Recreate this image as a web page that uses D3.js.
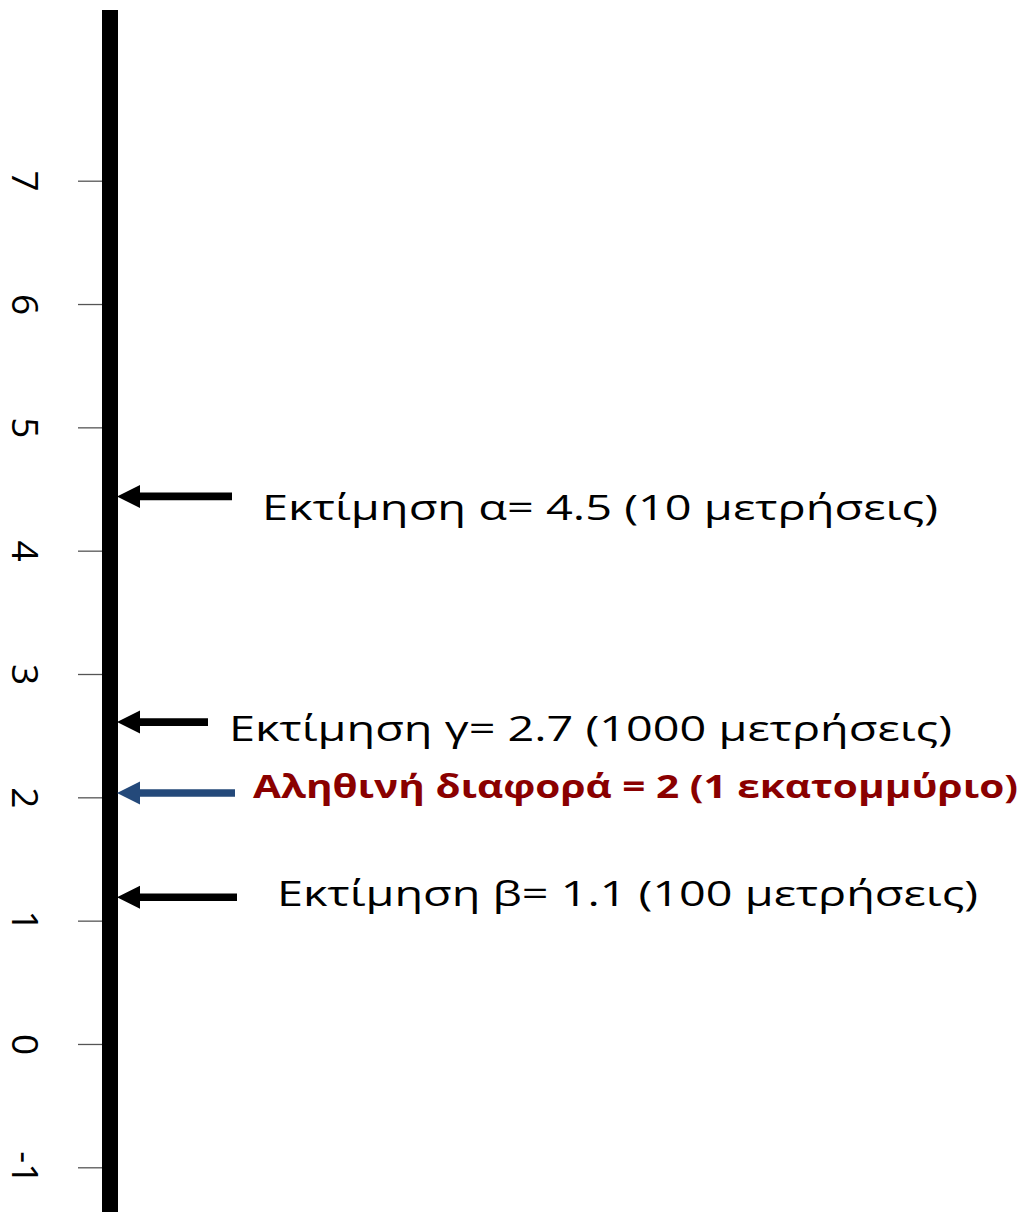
<!DOCTYPE html>
<html>
<head>
<meta charset="utf-8">
<script src="https://cdn.jsdelivr.net/npm/d3@7"></script>
<style>
  html, body { margin: 0; padding: 0; background: #fff; }
  svg { display: block; }
</style>
</head>
<body>
<svg id="chart" width="1024" height="1212"></svg>
<script>
// ---- data ----
const tickValues = [-1, 0, 1, 2, 3, 4, 5, 6, 7];
const estimateLabels = [
  "Εκτίμηση α= 4.5 (10 μετρήσεις)",
  "Εκτίμηση γ= 2.7 (1000 μετρήσεις)",
  "Αληθινή διαφορά = 2 (1 εκατομμύριο)",
  "Εκτίμηση β= 1.1 (100 μετρήσεις)"
];
const estimateValues = [4.5, 2.7, 2, 1.1];
// where the arrows point on the axis
const arrowPositions = [4.44, 2.61, 2.035, 1.19];
const isTruth = [false, false, true, false];

// ---- layout (not data) ----
const arrowEndX = [232, 208, 235, 237];
const labelX = [262, 229, 253, 277];
const labelW = [676, 723, 765, 701];
const labelBaselineOffset = [24, 19, 5, 9];

const svg = d3.select("#chart");

const y = d3.scaleLinear().domain([-1, 7]).range([1167.3, 180.7]);

// thick axis line
svg.append("rect")
  .attr("x", 102).attr("y", 10)
  .attr("width", 16).attr("height", 1212 - 10)
  .attr("fill", "#000");

// ticks
const axis = d3.axisLeft(y)
  .tickValues(tickValues)
  .tickSize(24)
  .tickSizeOuter(0)
  .tickFormat(d => String(d));

const g = svg.append("g").attr("transform", "translate(102,0)").call(axis);
g.select(".domain").remove();
g.selectAll(".tick line").attr("stroke", "#555").attr("stroke-width", 1.3);
g.selectAll(".tick text")
  .attr("x", 0).attr("y", 0).attr("dy", null)
  .attr("text-anchor", "middle")
  .attr("transform", "translate(-90,0) rotate(90)")
  .attr("font-family", "'Open Sans', sans-serif")
  .attr("font-size", 37)
  .attr("fill", "#000");

// arrows
const tipX = 117, headBackX = 140, headHalf = 11.5, shaftHalf = 3.8;
estimateValues.forEach((v, i) => {
  const yy = y(arrowPositions[i]);
  const color = isTruth[i] ? "#24497a" : "#000";
  const pts = [
    [tipX, yy],
    [headBackX, yy - headHalf],
    [headBackX, yy - shaftHalf],
    [arrowEndX[i], yy - shaftHalf],
    [arrowEndX[i], yy + shaftHalf],
    [headBackX, yy + shaftHalf],
    [headBackX, yy + headHalf]
  ];
  svg.append("path")
    .attr("d", d3.line()(pts) + "Z")
    .attr("fill", color);

  svg.append("text")
    .attr("x", labelX[i])
    .attr("y", yy + labelBaselineOffset[i])
    .attr("font-family", "'Open Sans', sans-serif")
    .attr("font-size", isTruth[i] ? 32 : 35)
    .attr("font-weight", isTruth[i] ? "bold" : "normal")
    .attr("fill", isTruth[i] ? "#8a0000" : "#000")
    .attr("textLength", labelW[i])
    .attr("lengthAdjust", "spacingAndGlyphs")
    .text(estimateLabels[i]);
});
</script>
</body>
</html>
